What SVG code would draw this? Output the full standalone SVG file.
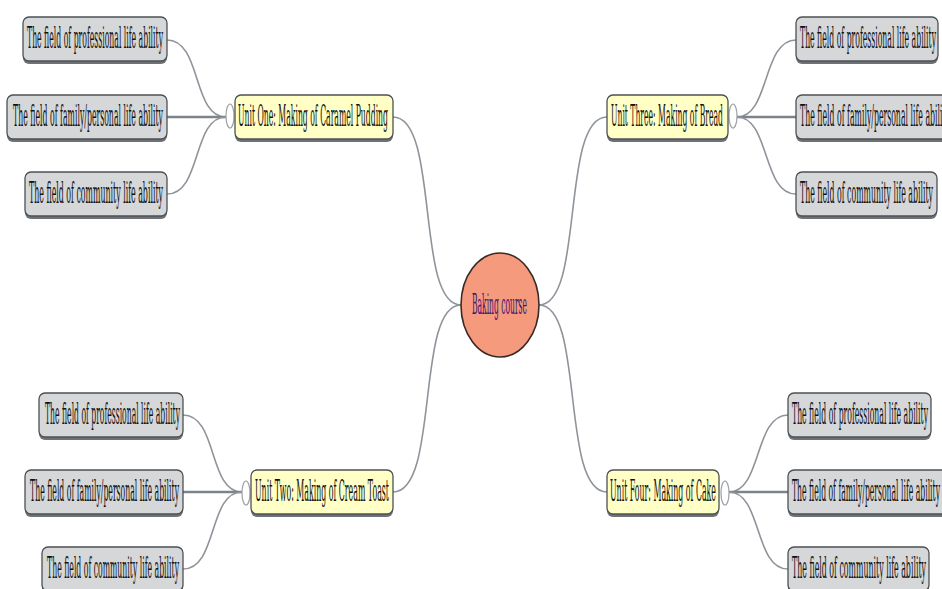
<svg xmlns="http://www.w3.org/2000/svg" width="942" height="589" viewBox="0 0 942 589">
<style>
.sh{fill:#6e7276;}
.g{fill:#d5d7d9;stroke:#4d5154;stroke-width:1.3;}
.y{fill:#ffffc6;stroke:#4d5154;stroke-width:1.3;}
.t{font-family:"DejaVu Serif","Liberation Serif",serif;font-size:30px;fill:#111;}
.c{fill:#fff;stroke:#9aa0a6;stroke-width:1.2;}
.ln{fill:none;stroke:#8e949a;stroke-width:1.6;}
.st{fill:none;stroke:#7c838a;stroke-width:2.4;}
</style>
<rect width="942" height="589" fill="#fff"/>
<g id="connectors">
<path class="ln" d="M393,117 C440,117 415,305 461,305"/>
<path class="ln" d="M393,492 C440,492 415,305 461,305"/>
<path class="ln" d="M607,117 C560,117 585,305 539,305"/>
<path class="ln" d="M607,492 C560,492 585,305 539,305"/>
<path class="ln" d="M167,40 C202,40 192,117 226,117"/>
<path class="st" d="M167,117 L226,117"/>
<path class="ln" d="M167,194 C202,194 192,117 226,117"/>
<path class="ln" d="M183,415 C218,415 208,492 242,492"/>
<path class="st" d="M183,492 L242,492"/>
<path class="ln" d="M183,569 C218,569 208,492 242,492"/>
<path class="ln" d="M796,40 C762,40 770,117 737,117"/>
<path class="st" d="M796,117 L737,117"/>
<path class="ln" d="M796,194 C762,194 770,117 737,117"/>
<path class="ln" d="M788,415 C754,415 762,492 729,492"/>
<path class="st" d="M788,492 L729,492"/>
<path class="ln" d="M788,569 C754,569 762,492 729,492"/>
<ellipse class="c" cx="230" cy="116" rx="4" ry="12"/>
<ellipse class="c" cx="246" cy="493" rx="4" ry="12"/>
<ellipse class="c" cx="733" cy="116" rx="4" ry="12"/>
<ellipse class="c" cx="725" cy="493" rx="4" ry="12"/>
</g>
<g id="center">
<ellipse cx="500" cy="305" rx="39" ry="52" fill="#f59a7c" stroke="#3a2a24" stroke-width="1.6"/>
<text x="472" y="314" textLength="55" lengthAdjust="spacingAndGlyphs" style="font-family:'DejaVu Serif','Liberation Serif',serif;font-size:28px;fill:#3c1670;">Baking course</text>
</g>
<g id="unit1">
<rect class="sh" x="235" y="98" width="158" height="44" rx="6"/>
<rect class="y" x="235" y="95" width="158" height="44" rx="6"/>
<text class="t" x="238" y="126" textLength="150" lengthAdjust="spacingAndGlyphs">Unit One: Making of Caramel Pudding</text>
</g>
<g id="u1p">
<rect class="sh" x="23" y="20" width="144" height="44" rx="6"/>
<rect class="g" x="23" y="17" width="144" height="44" rx="6"/>
<text class="t" x="27" y="48" textLength="136" lengthAdjust="spacingAndGlyphs">The field of professional life ability</text>
</g>
<g id="u1f">
<rect class="sh" x="7" y="98" width="160" height="44" rx="6"/>
<rect class="g" x="7" y="95" width="160" height="44" rx="6"/>
<text class="t" x="13" y="126" textLength="150" lengthAdjust="spacingAndGlyphs">The field of family/personal life ability</text>
</g>
<g id="u1c">
<rect class="sh" x="25" y="175" width="142" height="44" rx="6"/>
<rect class="g" x="25" y="172" width="142" height="44" rx="6"/>
<text class="t" x="29" y="203" textLength="134" lengthAdjust="spacingAndGlyphs">The field of community life ability</text>
</g>
<g id="unit2">
<rect class="sh" x="251" y="473" width="142" height="44" rx="6"/>
<rect class="y" x="251" y="470" width="142" height="44" rx="6"/>
<text class="t" x="255" y="501" textLength="134" lengthAdjust="spacingAndGlyphs">Unit Two: Making of Cream Toast</text>
</g>
<g id="u2p">
<rect class="sh" x="39" y="396" width="144" height="44" rx="6"/>
<rect class="g" x="39" y="393" width="144" height="44" rx="6"/>
<text class="t" x="45" y="424" textLength="135" lengthAdjust="spacingAndGlyphs">The field of professional life ability</text>
</g>
<g id="u2f">
<rect class="sh" x="25" y="473" width="158" height="44" rx="6"/>
<rect class="g" x="25" y="470" width="158" height="44" rx="6"/>
<text class="t" x="30" y="501" textLength="149" lengthAdjust="spacingAndGlyphs">The field of family/personal life ability</text>
</g>
<g id="u2c">
<rect class="sh" x="42" y="550" width="141" height="44" rx="6"/>
<rect class="g" x="42" y="547" width="141" height="44" rx="6"/>
<text class="t" x="47" y="578" textLength="132" lengthAdjust="spacingAndGlyphs">The field of community life ability</text>
</g>
<g id="unit3">
<rect class="sh" x="607" y="98" width="121" height="44" rx="6"/>
<rect class="y" x="607" y="95" width="121" height="44" rx="6"/>
<text class="t" x="611" y="126" textLength="112" lengthAdjust="spacingAndGlyphs">Unit Three: Making of Bread</text>
</g>
<g id="u3p">
<rect class="sh" x="796" y="20" width="142" height="44" rx="6"/>
<rect class="g" x="796" y="17" width="142" height="44" rx="6"/>
<text class="t" x="800" y="48" textLength="136" lengthAdjust="spacingAndGlyphs">The field of professional life ability</text>
</g>
<g id="u3f">
<rect class="sh" x="796" y="98" width="160" height="44" rx="6"/>
<rect class="g" x="796" y="95" width="160" height="44" rx="6"/>
<text class="t" x="800" y="126" textLength="150" lengthAdjust="spacingAndGlyphs">The field of family/personal life ability</text>
</g>
<g id="u3c">
<rect class="sh" x="796" y="175" width="141" height="44" rx="6"/>
<rect class="g" x="796" y="172" width="141" height="44" rx="6"/>
<text class="t" x="800" y="203" textLength="133" lengthAdjust="spacingAndGlyphs">The field of community life ability</text>
</g>
<g id="unit4">
<rect class="sh" x="607" y="473" width="112" height="44" rx="6"/>
<rect class="y" x="607" y="470" width="112" height="44" rx="6"/>
<text class="t" x="610" y="501" textLength="106" lengthAdjust="spacingAndGlyphs">Unit Four: Making of Cake</text>
</g>
<g id="u4p">
<rect class="sh" x="788" y="396" width="143" height="44" rx="6"/>
<rect class="g" x="788" y="393" width="143" height="44" rx="6"/>
<text class="t" x="792" y="424" textLength="136" lengthAdjust="spacingAndGlyphs">The field of professional life ability</text>
</g>
<g id="u4f">
<rect class="sh" x="788" y="473" width="160" height="44" rx="6"/>
<rect class="g" x="788" y="470" width="160" height="44" rx="6"/>
<text class="t" x="792" y="501" textLength="148" lengthAdjust="spacingAndGlyphs">The field of family/personal life ability</text>
</g>
<g id="u4c">
<rect class="sh" x="788" y="550" width="141" height="44" rx="6"/>
<rect class="g" x="788" y="547" width="141" height="44" rx="6"/>
<text class="t" x="792" y="578" textLength="134" lengthAdjust="spacingAndGlyphs">The field of community life ability</text>
</g>
</svg>
